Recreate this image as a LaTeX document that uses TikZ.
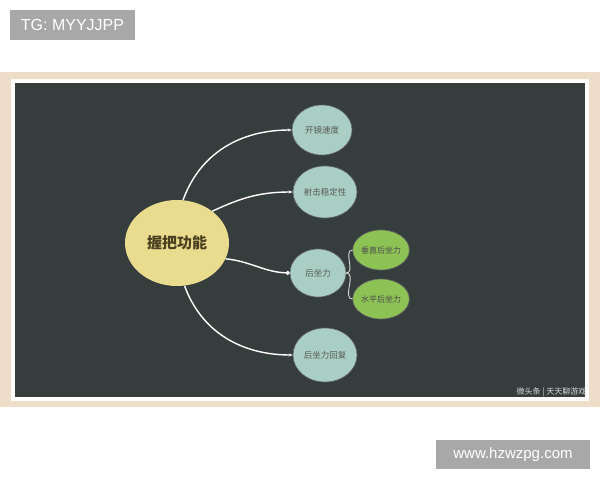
\documentclass[tikz,border=0pt]{standalone}
\usepackage{fontspec}
\setmainfont{Liberation Sans}
\newfontfamily\cjk{Noto Sans CJK SC}
\usetikzlibrary{shapes.geometric,arrows.meta}

\definecolor{lavagna}{HTML}{363D3D}
\definecolor{cornice}{HTML}{EEDDC9}
\definecolor{giallo}{HTML}{EADC8E}
\definecolor{acqua}{HTML}{A9CEC3}
\definecolor{verde}{HTML}{8DC255}
\definecolor{grigio}{HTML}{A8A8A8}
\definecolor{oliva}{HTML}{4A4020}

\tikzset{
  radice/.style={ellipse, fill=giallo, text=oliva, minimum width=104pt, minimum height=86pt,
    inner sep=0pt, font=\cjk\fontsize{15}{15}\selectfont},
  ramo/.style={ellipse, fill=acqua, draw=black!60, line width=0.6pt, text=black!65,
    inner sep=0pt, font=\cjk\fontsize{8.5}{8.5}\selectfont},
  foglia/.style={ellipse, fill=verde, draw=black!60, line width=0.6pt, text=black!70,
    minimum width=50pt, minimum height=40pt, inner sep=0pt, font=\cjk\fontsize{8}{8}\selectfont},
  filo/.style={white, line width=1.4pt, -{Stealth[length=4pt,width=3pt]}},
  filino/.style={black!15, line width=0.9pt},
  etichetta/.style={fill=grigio, text=white, inner sep=0pt, font=\fontsize{16}{16}\selectfont}
}

\begin{document}
\begin{tikzpicture}[x=1pt,y=1pt]
  \useasboundingbox (0,0) rectangle (600,480);
  \fill[white] (0,0) rectangle (600,480);

  %cornice della lavagna
  \fill[cornice] (0,73) rectangle (600,408);
  \fill[white!92!cornice] (11,79) rectangle (589,401);
  \fill[lavagna] (15,83) rectangle (585,397);

  %nodo centrale
  \node[radice] (presa) at (177,237) {\textbf{握把功能}};

  %rami
  \node[ramo, minimum width=60pt, minimum height=50pt] (mira) at (322,350) {开镜速度};
  \node[ramo, minimum width=64pt, minimum height=52pt] (stabile) at (325,288) {射击稳定性};
  \node[ramo, minimum width=56pt, minimum height=48pt] (rinculo) at (318,207) {后坐力};
  \node[ramo, minimum width=64pt, minimum height=54pt] (ritorno) at (325,125) {后坐力回复};

  %foglie
  \node[foglia] (verticale) at (381,230) {垂直后坐力};
  \node[foglia] (orizzontale) at (381,181) {水平后坐力};

  %collegamenti
  \draw[filo] (presa.82) to[out=70, in=180] (mira.west);
  \draw[filo] (presa.42) to[out=25, in=180] (stabile.west);
  \draw[white, line width=1.4pt, -{Circle[length=4pt]}] (presa.-18) to[out=-6, in=178] (rinculo.west);
  \draw[filo] (presa.-80) to[out=-70, in=180] (ritorno.west);
  \draw[filino] (rinculo.east) to[out=0, in=180] (verticale.west);
  \draw[filino] (rinculo.east) to[out=0, in=180] (orizzontale.west);

  %scritte
  \node[white!85!black, anchor=east, font=\cjk\fontsize{8}{8}\selectfont] (firma) at (590,88) {微头条 | 天天聊游戏};
  \node[etichetta, minimum width=125pt, minimum height=30pt] (tg) at (72.5,455) {TG: MYYJJPP};
  \node[etichetta, minimum width=154pt, minimum height=29pt, font=\fontsize{15}{15}\selectfont] (sito) at (513,25.5) {www.hzwzpg.com};
\end{tikzpicture}
\end{document}
